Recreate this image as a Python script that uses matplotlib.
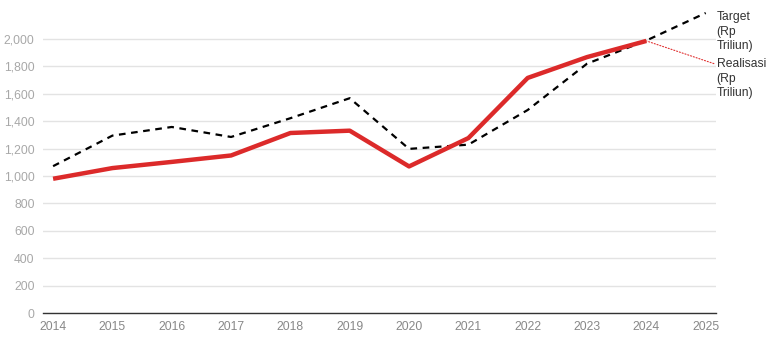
import numpy as np
import matplotlib.pyplot as plt

plt.rcParams['font.family'] = ['Liberation Sans', 'DejaVu Sans']

# data (Rp Triliun)
tahun = [2014, 2015, 2016, 2017, 2018, 2019, 2020, 2021, 2022, 2023, 2024, 2025]
target = [1072, 1295, 1358, 1285, 1422, 1568, 1198, 1229, 1482, 1820, 1989, 2190]
tahun_real = [2014, 2015, 2016, 2017, 2018, 2019, 2020, 2021, 2022, 2023, 2024]
realisasi = [980, 1058, 1103, 1150, 1314, 1331, 1070, 1277, 1716, 1868, 1986]

fig = plt.figure(figsize=(7.68, 3.41), dpi=100)
ax = fig.add_axes([0.056, 0.082, 0.876, 0.892])

ax.plot(tahun, target, color='black', lw=1.6, ls=(0, (3, 2.5)), zorder=3)
ax.plot(tahun_real, realisasi, color='#dc2a2a', lw=3.2, solid_capstyle='butt', zorder=4)

ax.set_xlim(2013.83, 2025.17)
ax.set_ylim(0, 2220)
ax.set_yticks(np.arange(0, 2001, 200))
ax.set_yticklabels([f'{v:,}' for v in range(0, 2001, 200)])
ax.set_xticks(tahun)

ax.grid(axis='y', color='#e3e3e3', lw=1)
ax.set_axisbelow(True)
for s in ['top', 'right', 'left']:
    ax.spines[s].set_visible(False)
ax.spines['bottom'].set_color('#333333')
ax.spines['bottom'].set_linewidth(1)
ax.tick_params(axis='y', length=0, pad=6, labelsize=8.7, labelcolor='#a8a8a8')
ax.tick_params(axis='x', length=0, pad=6, labelsize=8.7, labelcolor='#888888')

# labels on the right
ax.annotate('Target\n(Rp\nTriliun)', xy=(tahun[-1], target[-1]), xytext=(2025.185, 2205),
            fontsize=8.7, color='#333333', va='top', ha='left',
            linespacing=1.3, annotation_clip=False)
ax.annotate('Realisasi\n(Rp\nTriliun)', xy=(tahun_real[-1], realisasi[-1]), xytext=(2025.185, 1862),
            fontsize=8.7, color='#333333', va='top', ha='left', linespacing=1.3,
            annotation_clip=False,
            arrowprops=dict(arrowstyle='-', color='#e03030', lw=0.8, ls=':',
                            shrinkA=0, shrinkB=0, relpos=(0, 0.84)))

fig.savefig('out.png', dpi=100)
